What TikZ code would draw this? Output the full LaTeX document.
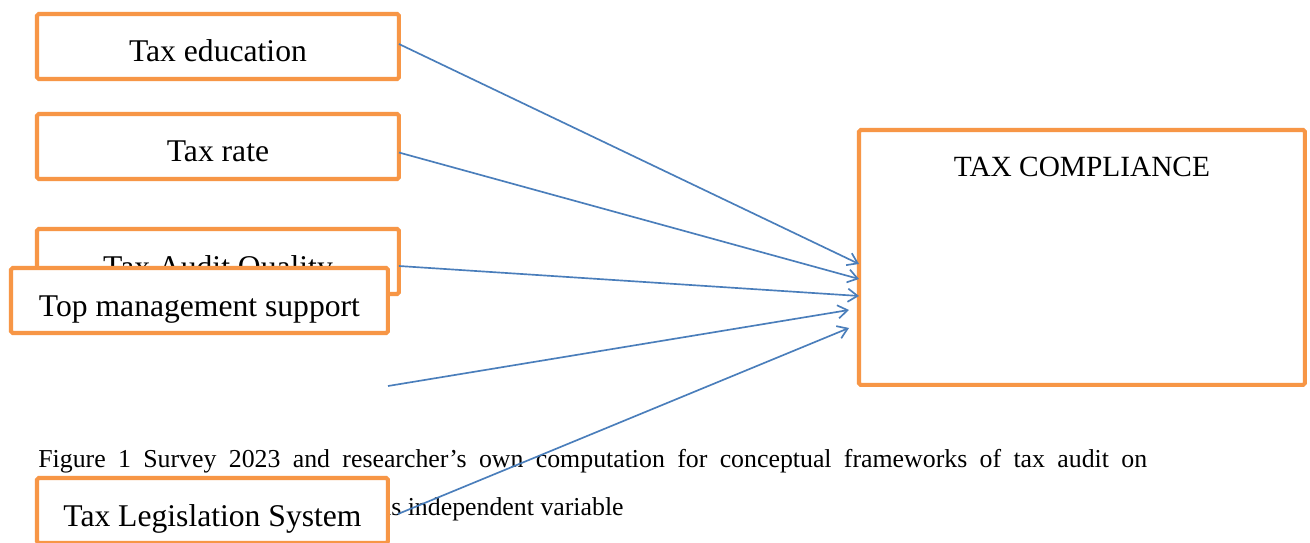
\documentclass[tikz,border=0pt]{standalone}
\usepackage{fontspec}
\setmainfont{Liberation Serif}
\usetikzlibrary{arrows.meta}
\definecolor{boxorange}{HTML}{F79646}
\definecolor{arrowblue}{HTML}{4A7EBB}
\tikzset{
  varbox/.style={draw=boxorange, line width=2.3pt, fill=white, rounded corners=1pt,
    anchor=north west, inner sep=0pt, outer sep=0pt, minimum height=1.3cm,
    text height=0.96cm, text depth=0.34cm, font=\fontsize{18}{21}\selectfont},
  link/.style={draw=arrowblue, line width=0.95pt, -{Straight Barb[length=5.5pt,width=7.5pt]}},
  caption/.style={anchor=base west, inner sep=0pt, font=\fontsize{14.7}{17}\selectfont}
}
\begin{document}
\begin{tikzpicture}[x=0.02cm, y=-0.02cm]
  \useasboundingbox[fill=white] (0,0) rectangle (1310,542);

  % caption lines (partly hidden)
  \node[caption] (cap1) at (38,467) {\makebox[22.18cm][s]{Figure 1 Survey 2023 and researcher’s own computation for conceptual frameworks of tax audit on}};
  \node[caption, anchor=base east] (cap2) at (624,515) {as independent variable};

  % boxes
  \node[varbox, minimum width=7.24cm] (edu) at (37,14) {Tax education};
  \node[varbox, minimum width=7.24cm] (rate) at (37,114) {Tax rate};
  \node[varbox, minimum width=7.24cm] (audit) at (37,229) {Tax Audit Quality};
  \node[varbox, minimum width=7.54cm] (mgmt) at (11,268) {Top management support};
  \node[varbox, minimum width=7.02cm] (legis) at (37,478) {Tax Legislation System};
  \node[varbox, minimum width=8.92cm, minimum height=5.1cm, text height=0.94cm, text depth=4.16cm,
    font=\fontsize{16.7}{19}\selectfont] (comp) at (859,130) {TAX COMPLIANCE};
  \coordinate (free) at (388,386);

  \draw[link] ([yshift=0.05cm]edu.east) -- ([yshift=-0.13cm]comp.west);
  \draw[link] ([yshift=-0.12cm]rate.east) -- ([yshift=-0.43cm]comp.west);
  \draw[link] ([yshift=-0.09cm]audit.east) -- ([yshift=-0.77cm]comp.west);
  \draw[link] (free) -- ([xshift=-0.2cm,yshift=-1.05cm]comp.west);
  \draw[link] ([xshift=0.2cm,yshift=-0.07cm]legis.east) -- ([xshift=-0.2cm,yshift=-1.41cm]comp.west);
\end{tikzpicture}
\end{document}
